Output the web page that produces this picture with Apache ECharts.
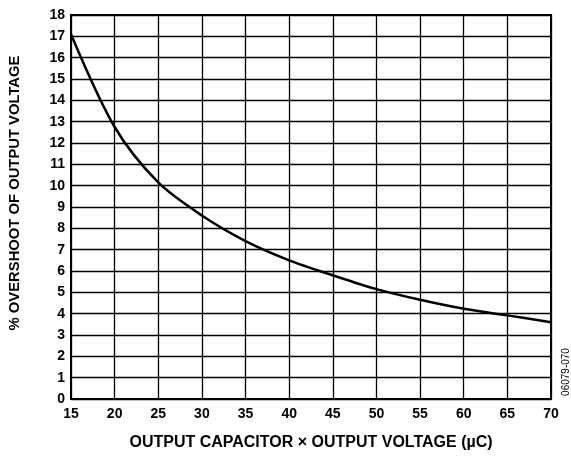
<!DOCTYPE html>
<html>
<head>
<meta charset="utf-8">
<script src="https://cdn.jsdelivr.net/npm/echarts@6/dist/echarts.min.js"></script>
<style>
html,body{margin:0;padding:0;background:#fff;}
#c{width:571px;height:457px;}
</style>
</head>
<body>
<div id="c"></div>
<script>
const xValues = [15, 20, 25, 30, 35, 40, 45, 50, 55, 60, 65, 70];
const overshoot = [17.1, 12.75, 10.15, 8.6, 7.4, 6.5, 5.8, 5.15, 4.65, 4.23, 3.92, 3.6];
const xTitle = 'OUTPUT CAPACITOR × OUTPUT VOLTAGE (µC)';
const yTitle = '% OVERSHOOT OF OUTPUT VOLTAGE';
const figId = '06079-070';

const chart = echarts.init(document.getElementById('c'), null, {renderer: 'canvas'});
const font = 'Liberation Sans, Arial, Helvetica, sans-serif';
chart.setOption({
  animation: false,
  backgroundColor: '#fff',
  grid: {left: 71, right: 20, top: 15, bottom: 58, containLabel: false},
  xAxis: {
    type: 'value', min: 15, max: 70, interval: 5,
    axisLine: {show: true, lineStyle: {color: '#000', width: 2}},
    axisTick: {show: false},
    axisLabel: {color: '#000', fontFamily: font, fontWeight: 'bold', fontSize: 14, margin: 8},
    splitLine: {show: true, lineStyle: {color: '#000', width: 1.3}},
    name: xTitle, nameLocation: 'middle', nameGap: 36,
    nameTextStyle: {color: '#000', fontFamily: font, fontWeight: 'bold', fontSize: 16}
  },
  yAxis: {
    type: 'value', min: 0, max: 18, interval: 1,
    axisLine: {show: true, lineStyle: {color: '#000', width: 2}},
    axisTick: {show: false},
    axisLabel: {color: '#000', fontFamily: font, fontWeight: 'bold', fontSize: 14, margin: 6},
    splitLine: {show: true, lineStyle: {color: '#000', width: 1.3}}
  },
  graphic: [
    {type: 'rect', shape: {x: 71, y: 15, width: 480, height: 384}, style: {fill: 'none', stroke: '#000', lineWidth: 2}, z: 10, silent: true},
    {type: 'text', x: 15, y: 193, rotation: Math.PI / 2,
     style: {text: yTitle, fill: '#000', font: 'bold 14.8px ' + font, textAlign: 'center', textVerticalAlign: 'middle'}},
    {type: 'text', x: 566, y: 372, rotation: Math.PI / 2,
     style: {text: figId, fill: '#000', font: '10px ' + font, textAlign: 'center', textVerticalAlign: 'middle'}}
  ],
  series: [{
    type: 'line',
    data: xValues.map((x, i) => [x, overshoot[i]]),
    smooth: 0.3,
    showSymbol: false,
    lineStyle: {color: '#000', width: 2.5},
    z: 5
  }]
});
</script>
</body>
</html>
